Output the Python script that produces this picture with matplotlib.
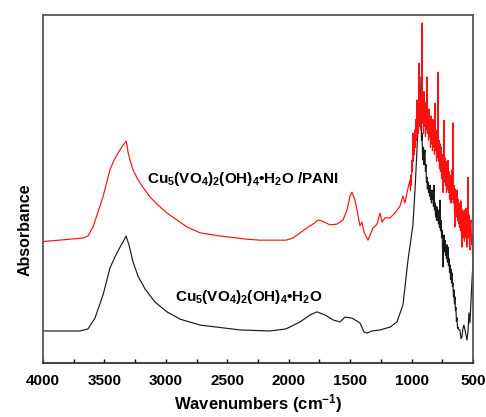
import matplotlib
matplotlib.use("Agg")
import matplotlib.pyplot as plt
from matplotlib.ticker import MultipleLocator

# Wavenumbers (cm^-1) and absorbance (arbitrary units)
black_wn = [4000, 3699, 3634, 3577, 3512, 3455, 3414, 3373, 3341, 3324, 3300, 3267,
            3227, 3170, 3088, 2991, 2885, 2722, 2397, 2152, 2022, 1908, 1827, 1770,
            1705, 1640, 1583, 1542, 1485, 1420, 1387, 1363, 1322, 1257, 1176, 1119,
            1070, 1029, 989, 972, 956,
            940, 931, 927, 923, 919, 915, 911, 907, 903, 899, 895, 891, 887, 883,
            879, 875, 871, 866, 862, 858, 854, 850, 846, 842, 838, 834, 830, 826,
            822, 818, 814, 809, 805, 801, 797, 793, 789, 785, 781, 777, 773, 769,
            765, 760, 756, 752, 748, 744, 740, 736, 732, 728, 724, 720, 716, 712,
            708, 704, 700, 695, 691, 687, 683, 679, 675, 671, 667, 663, 659, 655,
            651, 647, 643, 639, 635, 630, 626, 622,
            614, 606, 598, 590, 582, 574, 565, 557, 549, 541, 533, 525, 516, 508, 500]
black_abs = [9.2, 9.2, 9.8, 12.9, 19.5, 27.3, 30.5, 33.3, 35.3, 36.5, 33.9, 29.0,
             25.0, 21.3, 17.5, 14.7, 12.6, 10.9, 9.5, 9.2, 9.8, 11.8, 13.8, 14.7,
             13.8, 12.4, 11.8, 13.2, 12.9, 11.5, 8.9, 8.6, 9.2, 9.5, 10.3, 11.8,
             16.7, 29.6, 39.7, 49.7, 61.2,
             75.6, 82.2, 70.0, 72.7, 64.0, 66.0, 60.0, 58.3, 62.0, 57.0, 60.0, 61.2,
             55.0, 57.0, 52.0, 53.4, 50.0, 52.0, 49.0, 51.0, 48.0, 51.1, 47.0, 49.0,
             46.0, 49.7, 47.0, 48.0, 45.0, 51.1, 44.0, 46.0, 42.0, 45.0, 41.0, 44.8,
             41.0, 43.0, 40.0, 44.0, 39.0, 46.8, 38.0, 41.0, 36.0, 38.2, 33.0, 27.6,
             35.0, 36.8, 32.0, 35.3, 31.0, 33.0, 30.0, 34.0, 29.0, 33.3, 28.0, 30.0,
             26.0, 28.2, 24.0, 27.0, 23.0, 25.9, 22.0, 23.0, 19.0, 21.0, 17.0, 19.0,
             15.0, 16.0, 12.0, 13.0, 10.0, 10.3,
             9.5, 9.5, 7.0, 7.5, 10.0, 10.9, 9.5, 8.0, 6.6, 9.0, 14.4, 11.5, 18.0,
             23.9, 28.7]

red_wn = [4000, 3674, 3634, 3593, 3552, 3512, 3455, 3422, 3398, 3373, 3349, 3333,
          3324, 3316, 3308, 3292, 3267, 3235, 3210, 3170, 3129, 3064, 2991, 2909,
          2828, 2722, 2559, 2348, 2234, 2022, 1965, 1908, 1827, 1790, 1762, 1729,
          1664, 1607, 1558, 1526, 1501, 1485, 1461, 1444, 1420, 1404, 1387, 1355,
          1314, 1281, 1257, 1241, 1216, 1176, 1135, 1094, 1070, 1054, 1029,
          1013, 1009, 1005, 1001, 997, 993, 989, 985, 981, 977, 972, 968, 964, 960,
          956, 952, 948, 944, 940, 936, 931, 927, 923, 919, 915, 911, 907, 903,
          899, 895, 891, 887, 883, 879, 875, 871, 866, 862, 858, 854, 850, 846,
          842, 838, 834, 830, 826, 822, 818, 814, 809, 805, 801, 797, 793, 789,
          785, 781, 777, 773, 769, 765, 760, 756, 752, 748, 744, 740, 736, 732,
          728, 724, 720, 716, 712, 708, 704, 700, 695, 691, 687, 683, 679, 675,
          671, 667, 663, 659, 655, 651, 647, 643, 639, 635, 630, 626, 622, 618,
          614, 610, 606, 602, 598, 594, 590, 586, 582, 578, 574, 570, 565, 561,
          557, 553, 549, 545, 541, 537, 533, 529, 525, 521, 516, 512, 508, 504, 500]
red_abs = [34.9, 35.9, 36.5, 39.1, 43.4, 47.7, 55.5, 58.3, 59.8, 61.2, 62.6, 63.2,
           63.8, 62.6, 60.6, 58.3, 55.5, 53.2, 51.7, 49.7, 47.7, 45.4, 43.1, 41.1,
           39.1, 37.4, 36.5, 35.6, 35.3, 35.3, 35.9, 37.4, 39.4, 40.2, 41.1, 40.8,
           39.7, 39.9, 41.1, 43.9, 48.0, 49.1, 46.8, 43.9, 39.4, 40.5, 37.6, 35.3,
           38.8, 39.9, 43.1, 40.5, 41.7, 41.7, 43.1, 45.1, 48.0, 46.0, 50.3,
           52.6, 49.5, 54.0, 51.0, 58.3, 55.0, 66.1, 58.0, 63.0, 60.0, 67.0, 62.0,
           70.0, 64.0, 75.6, 65.0, 71.0, 66.0, 86.2, 68.0, 74.0, 67.0, 77.0, 70.0,
           97.7, 69.0, 76.0, 66.0, 78.0, 68.0, 73.0, 65.0, 75.0, 67.0, 82.2, 66.0,
           72.0, 64.0, 73.0, 65.0, 70.0, 62.0, 71.0, 63.0, 69.0, 61.0, 70.0, 62.0,
           68.0, 60.0, 74.7, 61.0, 66.0, 58.0, 67.0, 59.0, 83.6, 58.0, 64.0, 56.0,
           63.0, 55.0, 62.0, 53.0, 60.0, 52.0, 49.0, 58.0, 69.8, 52.0, 59.0, 51.0,
           57.0, 49.0, 58.0, 50.0, 58.3, 49.0, 55.0, 47.0, 54.0, 46.0, 53.0, 46.0,
           55.5, 47.0, 69.0, 46.0, 51.1, 44.0, 39.1, 50.0, 48.0, 42.0, 49.7, 41.0,
           47.0, 40.0, 46.0, 39.0, 45.0, 38.0, 46.6, 37.0, 33.3, 44.0, 43.0, 36.0,
           43.7, 35.0, 44.0, 36.0, 44.5, 37.0, 33.3, 42.0, 53.4, 36.0, 42.5, 34.0,
           32.5, 40.0, 41.1, 34.0, 36.8, 31.0, 29.6]

xticks = [4000, 3500, 3000, 2500, 2000, 1500, 1000, 500]
label_red = r"Cu$_5$(VO$_4$)$_2$(OH)$_4$•H$_2$O /PANI"
label_black = r"Cu$_5$(VO$_4$)$_2$(OH)$_4$•H$_2$O"

plt.rcParams['font.family'] = ['Liberation Sans', 'DejaVu Sans']
plt.rcParams['mathtext.fontset'] = 'custom'
plt.rcParams['mathtext.rm'] = 'Liberation Sans:bold'
plt.rcParams['mathtext.it'] = 'Liberation Sans:bold'

fig = plt.figure(figsize=(4.86, 4.17), dpi=100)
ax = fig.add_axes([43/486, (417-363)/417, (473-43)/486, (363-15)/417])

ax.plot(black_wn, black_abs, color='#1a1a1a', lw=0.85)
ax.plot(red_wn, red_abs, color='#ff1010', lw=0.85)

ax.set_xlim(4000, 500)
ax.set_ylim(0, 100)
ax.set_xticks(xticks)
ax.set_xticklabels([str(t) for t in xticks], fontsize=11, fontweight='bold')
ax.xaxis.set_minor_locator(MultipleLocator(250))
ax.tick_params(axis='x', which='major', direction='in', length=3, width=1, pad=8)
ax.tick_params(axis='x', which='minor', direction='in', length=3, width=1)
ax.set_yticks([])
for s in ax.spines.values():
    s.set_color('#555555')
    s.set_linewidth(1.3)
ax.spines['bottom'].set_color('#333333')

ax.set_xlabel(r"Wavenumbers (cm$^{-1}$)", fontsize=12, fontweight='bold', labelpad=3)
fig.text(25/486, 1 - 230/417, "Absorbance", rotation=90, fontsize=11.5,
         fontweight='bold', ha='center', va='center')

ax.text(2368, 52.9, label_red, fontsize=11, fontweight='bold', ha='center', va='center')
ax.text(2327, 19, label_black, fontsize=11, fontweight='bold', ha='center', va='center')

fig.savefig("out.png", dpi=100)
